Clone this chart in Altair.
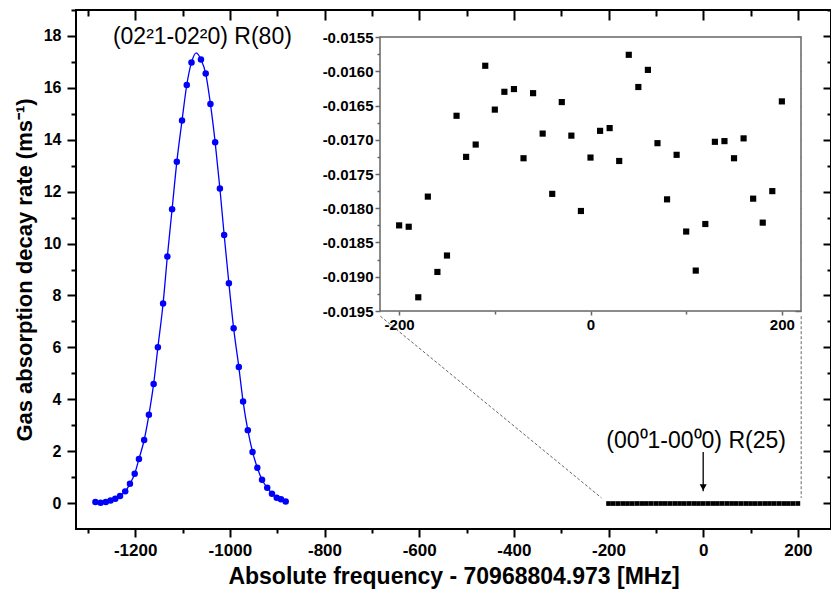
import altair as alt
import pandas as pd

# ---------------- data ----------------
# (02^2 1 - 02^2 0) R(80) line: measured decay rates (ms^-1)
PEAK_X = [-1284, -1273, -1262, -1252, -1242, -1232, -1221, -1211, -1201, -1192,
          -1181, -1171, -1161, -1152, -1141, -1132, -1122, -1112, -1101, -1091,
          -1081, -1061, -1051, -1041, -1031, -1021, -1012, -1002, -992, -981,
          -972, -962, -952, -942, -932, -921, -911, -901, -892, -882]
PEAK_Y = [0.04, 0.01, 0.04, 0.10, 0.17, 0.27, 0.45, 0.74, 1.13, 1.70,
          2.43, 3.40, 4.59, 6.00, 7.69, 9.50, 11.32, 13.15, 14.74, 16.11,
          16.98, 17.09, 16.55, 15.38, 13.90, 12.12, 10.33, 8.47, 6.74, 5.24,
          3.91, 2.81, 1.97, 1.36, 0.90, 0.59, 0.36, 0.20, 0.15, 0.06]

# fitted profile
FIT_X = [-1284, -1273, -1262, -1252, -1242, -1232, -1221, -1211, -1201, -1192,
         -1181, -1171, -1161, -1152, -1141, -1132, -1122, -1112, -1101, -1091,
         -1081, -1071, -1061, -1051, -1041, -1031, -1021, -1012, -1002, -992, -981,
         -972, -962, -952, -942, -932, -921, -911, -901, -892, -882]
FIT_Y = [0.04, 0.01, 0.04, 0.10, 0.17, 0.27, 0.45, 0.74, 1.13, 1.70,
         2.43, 3.40, 4.59, 6.00, 7.69, 9.50, 11.32, 13.15, 14.74, 16.11,
         16.98, 17.35, 17.09, 16.55, 15.38, 13.90, 12.12, 10.33, 8.47, 6.74, 5.24,
         3.91, 2.81, 1.97, 1.36, 0.90, 0.59, 0.36, 0.20, 0.15, 0.06]

# (00^0 1 - 00^0 0) R(25) line: measured decay rates (ms^-1)
CO2_X = [-200, -190, -180, -170, -160, -150, -140, -130, -120, -110, -100,
         -90, -80, -70, -60, -50, -40, -30, -20, -10, 0,
         10, 20, 30, 40, 50, 60, 70, 80, 90, 100,
         110, 120, 130, 140, 150, 160, 170, 180, 190, 200]
CO2_Y = [-0.01825, -0.01827, -0.01930, -0.01783, -0.01893, -0.01869, -0.01665,
         -0.01725, -0.01707, -0.01592, -0.01656, -0.01630, -0.01626, -0.01727,
         -0.01632, -0.01691, -0.01779, -0.01645, -0.01694, -0.01804, -0.01726,
         -0.01687, -0.01683, -0.01731, -0.01576, -0.01623, -0.01598, -0.01705,
         -0.01787, -0.01722, -0.01834, -0.01891, -0.01823, -0.01703, -0.01702,
         -0.01727, -0.01698, -0.01786, -0.01821, -0.01775, -0.01644]

# axis ticks (major = labelled, all = major + minor)
MAIN_X_MAJOR = [-1200, -1000, -800, -600, -400, -200, 0, 200]
MAIN_X_ALL = [-1300, -1200, -1100, -1000, -900, -800, -700, -600, -500, -400,
              -300, -200, -100, 0, 100, 200]
MAIN_Y_MAJOR = [0, 2, 4, 6, 8, 10, 12, 14, 16, 18]
MAIN_Y_ALL = list(range(0, 20))
INSET_X_MAJOR = [-200, 0, 200]
INSET_X_ALL = [-200, -100, 0, 100, 200]
INSET_Y_MAJOR = [-0.0195, -0.019, -0.0185, -0.018, -0.0175, -0.017, -0.0165,
                 -0.016, -0.0155]
INSET_Y_ALL = [-0.0195, -0.01925, -0.019, -0.01875, -0.0185, -0.01825, -0.018,
               -0.01775, -0.0175, -0.01725, -0.017, -0.01675, -0.0165, -0.01625,
               -0.016, -0.01575, -0.0155]

# annotations
ANNOT_TEXT = ["(02²1-02²0) R(80)", "(00⁰1-00⁰0) R(25)"]
ANNOT_X = [-1058, -15]
ANNOT_Y = [17.96, 2.39]
ARROW_X = [0]
ARROW_Y_TOP = [1.97]
ARROW_Y_TIP = [0.45]
LINK_X1 = [-682, 207]
LINK_Y1 = [7.2, 7.2]
LINK_X2 = [-215, 207]
LINK_Y2 = [0.2, 0.2]
INSET_X_DOMAIN = [-220, 220]
INSET_Y_DOMAIN = [-0.0195, -0.0155]

# ---------------- tables ----------------
peak_df = pd.DataFrame({"f": PEAK_X, "r": PEAK_Y})
fit_df = pd.DataFrame({"f": FIT_X, "r": FIT_Y})
co2_df = pd.DataFrame({"f": CO2_X, "r": CO2_Y})
annot_df = pd.DataFrame({"f": ANNOT_X, "r": ANNOT_Y, "t": ANNOT_TEXT})
arrow_df = pd.DataFrame({"f": ARROW_X, "r": ARROW_Y_TOP, "r2": ARROW_Y_TIP})
link_df = pd.DataFrame({"f": LINK_X1, "r": LINK_Y1, "f2": LINK_X2, "r2": LINK_Y2})
frame_df = pd.DataFrame({"f": [INSET_X_DOMAIN[0]], "f2": [INSET_X_DOMAIN[1]],
                         "r": [INSET_Y_DOMAIN[0]], "r2": [INSET_Y_DOMAIN[1]]})

W, H = 755, 519
FONT = "Liberation Sans"
BLUE = "#0000ff"
GREY = "#666666"

X_MAJ = "datum.value % 200 === 0"
Y_MAJ = "datum.value % 2 === 0"
IY_MAJ = "abs(round(datum.value * 10000)) % 5 === 0"


def cond(test, major, minor):
    return {"condition": {"test": test, "value": major}, "value": minor}


def ticks_only(orient, offset, values, test, major, minor, color="black", width=2):
    return alt.Axis(orient=orient, offset=offset, values=values, labels=False,
                    domain=False, title=None, tickColor=color, tickWidth=width,
                    tickSize=cond(test, major, minor))


def mx(field="f", axis=None):
    return alt.X(f"{field}:Q", scale=alt.Scale(domain=[-1325, 270], nice=False, zero=False),
                 axis=axis)


def my(field="r", axis=None):
    return alt.Y(f"{field}:Q", scale=alt.Scale(domain=[-1, 19], nice=False, zero=False),
                 axis=axis)


IX0, IX1 = 304, 725
IY0, IY1 = 301, 27


def ix(field="f", axis=None):
    return alt.X(f"{field}:Q", scale=alt.Scale(domain=INSET_X_DOMAIN, range=[IX0, IX1],
                                               nice=False, zero=False), axis=axis)


def iy(field="r", axis=None):
    return alt.Y(f"{field}:Q", scale=alt.Scale(domain=INSET_Y_DOMAIN, range=[IY0, IY1],
                                               nice=False, zero=False), axis=axis)


# labelled main axes (ticks drawn by separate layers)
x_axis = alt.Axis(orient="bottom", values=MAIN_X_MAJOR, ticks=False, domain=False,
                  labelExpr="'' + datum.value",
                  labelFontSize=17, labelPadding=13, labelOverlap=False,
                  title="Absolute frequency - 70968804.973 [MHz]",
                  titleFontSize=23, titlePadding=7)
y_axis = alt.Axis(orient="left", values=MAIN_Y_MAJOR, ticks=False, domain=False,
                  labelExpr="'' + datum.value",
                  labelFontSize=16, labelPadding=15, labelOverlap=False,
                  title="Gas absorption decay rate (ms⁻¹)",
                  titleFontSize=22, titlePadding=7)

links = alt.Chart(link_df).mark_rule(color=GREY, strokeWidth=1, strokeDash=[3, 2]).encode(
    x=mx(), y=my(), x2="f2:Q", y2="r2:Q")
fit = alt.Chart(fit_df).mark_line(color=BLUE, strokeWidth=1.3, interpolate="monotone").encode(
    x=mx(), y=my())
dots = alt.Chart(peak_df).mark_circle(size=42, color=BLUE, opacity=1).encode(
    x=mx(axis=x_axis), y=my(axis=y_axis))
co2_main = alt.Chart(co2_df).mark_square(size=22, color="black", opacity=1).encode(
    x=mx(), y=my())
annots = alt.Chart(annot_df).mark_text(font=FONT, fontSize=23, color="black").encode(
    x=mx(), y=my(), text="t:N")
arrow = alt.Chart(arrow_df).mark_rule(color="black", strokeWidth=1.3).encode(
    x=mx(), y=my(), y2="r2:Q")
head = alt.Chart(arrow_df).mark_point(shape="triangle-down", filled=True, size=50,
                                      color="black", opacity=1, yOffset=-4).encode(
    x=mx(), y=my("r2"))
main_out = alt.Chart(peak_df).mark_point(opacity=0).encode(
    x=mx(axis=ticks_only("bottom", 0, MAIN_X_ALL, X_MAJ, 8, 4)),
    y=my(axis=ticks_only("left", 0, MAIN_Y_ALL, Y_MAJ, 9, 5)))
main_in = alt.Chart(peak_df).mark_point(opacity=0).encode(
    x=mx(axis=ticks_only("bottom", -H, MAIN_X_ALL, X_MAJ, 10, 6)),
    y=my(axis=ticks_only("left", -W, MAIN_Y_ALL, Y_MAJ, 8, 4)))

# ---------------- inset ----------------
INSET_LABEL = "replace(format(datum.value, '.4f'), '\u2212', '-')"
ix_axis = alt.Axis(orient="bottom", offset=IY0 - H, values=INSET_X_MAJOR, ticks=False,
                   domain=False, labelExpr="'' + datum.value",
                   labelFontSize=15, labelPadding=6, labelOverlap=False, title=None)
iy_axis = alt.Axis(orient="left", offset=-IX0, values=INSET_Y_MAJOR,
                   labelExpr=INSET_LABEL,
                   ticks=False, domain=False, labelFontSize=15, labelPadding=7,
                   labelOverlap=False, title=None)

frame = alt.Chart(frame_df).mark_rect(fill="white", stroke=GREY, strokeWidth=1.5).encode(
    x=ix(), x2="f2:Q", y=iy(), y2="r2:Q")
inset_pts = alt.Chart(co2_df).mark_square(size=38, color="black", opacity=1).encode(
    x=ix(axis=ix_axis), y=iy(axis=iy_axis))
inset_out = alt.Chart(co2_df).mark_point(opacity=0).encode(
    x=ix(axis=ticks_only("bottom", IY0 - H, INSET_X_ALL, X_MAJ, 4, 3, GREY, 1.5)),
    y=iy(axis=ticks_only("left", -IX0, INSET_Y_ALL, IY_MAJ, 5, 3, GREY, 1.5)))
inset_in = alt.Chart(co2_df).mark_point(opacity=0).encode(
    x=ix(axis=ticks_only("bottom", IY1 - H, INSET_X_ALL, X_MAJ, 5, 3, GREY, 1.5)),
    y=iy(axis=ticks_only("left", -IX1, INSET_Y_ALL, IY_MAJ, 6, 4, GREY, 1.5)))

chart = alt.layer(
    links, fit, dots, co2_main, annots, arrow, head, main_out, main_in,
    frame, inset_pts, inset_out, inset_in
).resolve_scale(
    x="independent", y="independent"
).properties(
    width=W, height=H,
    padding={"left": 76, "top": 10, "right": 0, "bottom": 73},
    autosize="none",
    background="white",
).configure_view(
    stroke="black", strokeWidth=2
).configure_axis(
    grid=False, labelFont=FONT, titleFont=FONT, labelFontWeight="bold",
    titleFontWeight="bold", labelColor="black", titleColor="black",
    domainColor="black", tickColor="black", domainWidth=2, tickWidth=2,
)

chart.save("out.html", embed_options={"renderer": "svg", "actions": False})
